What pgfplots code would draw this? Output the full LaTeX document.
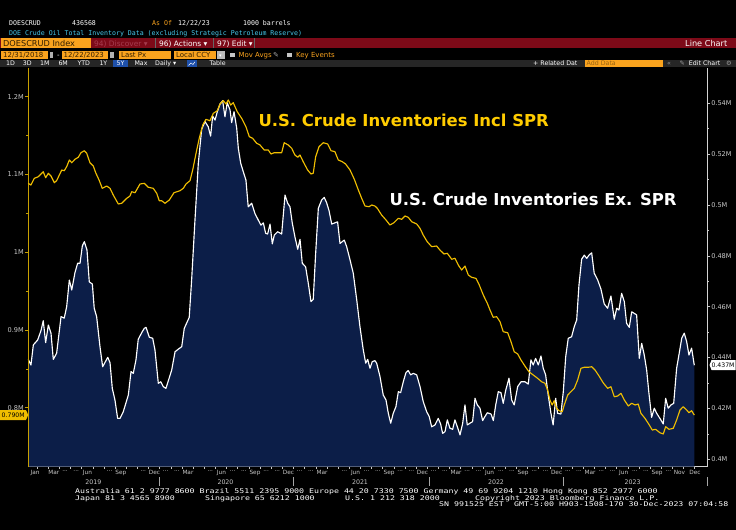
\documentclass[border=0pt]{standalone}
\usepackage{fontspec}
\setmainfont{DejaVu Sans}
\newfontfamily\mono{DejaVu Sans Mono}
\usepackage{graphicx}
\usepackage{pgfplots}
\usepackage{pgfplotstable}
\pgfplotsset{compat=1.18}

\definecolor{navy}{RGB}{12,30,72}
\definecolor{gold}{RGB}{240,190,0}
\definecolor{goldtxt}{RGB}{255,204,0}
\definecolor{goldaxis}{RGB}{200,160,0}
\definecolor{bbred}{RGB}{125,10,24}
\definecolor{bborange}{RGB}{250,163,30}
\definecolor{bbcyan}{RGB}{70,200,235}
\definecolor{bbgrey}{RGB}{200,200,200}
\definecolor{bbbar}{RGB}{38,38,38}
\definecolor{bbblue}{RGB}{30,80,170}
\definecolor{dimred}{RGB}{165,60,78}
\definecolor{boxtxt}{RGB}{50,30,0}

\protected\def\dd{...}
% squat terminal-style footer text
\newcommand\ft[1]{\scalebox{1}[0.78]{#1}}

% U.S. crude inventories excluding SPR (million x 1000 bbl), right axis
\pgfplotstableread{
t v
2019.017 0.4393
2019.037 0.4371
2019.055 0.4450
2019.087 0.4469
2019.112 0.4506
2019.129 0.4545
2019.147 0.4459
2019.167 0.4528
2019.187 0.4496
2019.204 0.4393
2019.229 0.4417
2019.262 0.4561
2019.286 0.4555
2019.304 0.4600
2019.324 0.4705
2019.342 0.4666
2019.366 0.4734
2019.386 0.4771
2019.404 0.4771
2019.421 0.4839
2019.436 0.4856
2019.456 0.4823
2019.473 0.4698
2019.496 0.4689
2019.510 0.4594
2019.528 0.4561
2019.553 0.4443
2019.573 0.4364
2019.611 0.4401
2019.628 0.4380
2019.645 0.4279
2019.665 0.4233
2019.685 0.4161
2019.703 0.4161
2019.727 0.4187
2019.765 0.4253
2019.785 0.4345
2019.802 0.4338
2019.822 0.4391
2019.839 0.4472
2019.865 0.4498
2019.884 0.4515
2019.897 0.4519
2019.922 0.4480
2019.947 0.4476
2019.964 0.4430
2019.989 0.4299
2020.007 0.4305
2020.026 0.4286
2020.046 0.4279
2020.089 0.4351
2020.114 0.4423
2020.138 0.4433
2020.164 0.4443
2020.183 0.4515
2020.220 0.4558
2020.238 0.4705
2020.263 0.4941
2020.288 0.5164
2020.313 0.5298
2020.338 0.5328
2020.362 0.5308
2020.380 0.5271
2020.395 0.5350
2020.413 0.5334
2020.430 0.5367
2020.450 0.5397
2020.470 0.5410
2020.487 0.5347
2020.504 0.5402
2020.525 0.5374
2020.537 0.5324
2020.555 0.5367
2020.575 0.5302
2020.587 0.5223
2020.605 0.5164
2020.624 0.5131
2020.644 0.5098
2020.661 0.4993
2020.687 0.5007
2020.711 0.4967
2020.736 0.4941
2020.756 0.4921
2020.774 0.4930
2020.791 0.4889
2020.806 0.4886
2020.824 0.4925
2020.841 0.4847
2020.856 0.4882
2020.881 0.4895
2020.911 0.4886
2020.936 0.5039
2020.956 0.5007
2020.973 0.4993
2020.990 0.4930
2021.010 0.4875
2021.031 0.4826
2021.048 0.4865
2021.065 0.4771
2021.090 0.4757
2021.110 0.4692
2021.130 0.4620
2021.147 0.4629
2021.165 0.4810
2021.185 0.4987
2021.210 0.5020
2021.229 0.5030
2021.247 0.5009
2021.265 0.4978
2021.285 0.4925
2021.309 0.4930
2021.329 0.4934
2021.347 0.4849
2021.364 0.4856
2021.379 0.4862
2021.397 0.4836
2021.422 0.4784
2021.446 0.4732
2021.472 0.4627
2021.496 0.4522
2021.521 0.4430
2021.539 0.4378
2021.554 0.4393
2021.571 0.4358
2021.588 0.4384
2021.608 0.4388
2021.621 0.4378
2021.646 0.4325
2021.670 0.4253
2021.691 0.4233
2021.708 0.4181
2021.726 0.4142
2021.745 0.4181
2021.765 0.4207
2021.783 0.4266
2021.800 0.4262
2021.820 0.4305
2021.840 0.4341
2021.857 0.4349
2021.875 0.4332
2021.895 0.4338
2021.920 0.4332
2021.945 0.4286
2021.969 0.4227
2021.995 0.4187
2022.014 0.4168
2022.032 0.4128
2022.057 0.4135
2022.081 0.4161
2022.099 0.4139
2022.114 0.4102
2022.132 0.4109
2022.149 0.4155
2022.169 0.4122
2022.189 0.4118
2022.206 0.4155
2022.224 0.4128
2022.244 0.4096
2022.264 0.4142
2022.281 0.4214
2022.298 0.4135
2022.318 0.4142
2022.338 0.4148
2022.356 0.4240
2022.373 0.4214
2022.393 0.4201
2022.413 0.4152
2022.430 0.4168
2022.448 0.4183
2022.476 0.4178
2022.493 0.4152
2022.511 0.4214
2022.530 0.4266
2022.550 0.4262
2022.567 0.4220
2022.585 0.4270
2022.610 0.4319
2022.630 0.4233
2022.649 0.4214
2022.675 0.4286
2022.700 0.4305
2022.729 0.4305
2022.754 0.4296
2022.774 0.4391
2022.791 0.4371
2022.809 0.4397
2022.829 0.4371
2022.849 0.4406
2022.866 0.4358
2022.884 0.4332
2022.903 0.4253
2022.923 0.4183
2022.940 0.4135
2022.959 0.4240
2022.973 0.4181
2022.998 0.4178
2023.016 0.4266
2023.034 0.4404
2023.053 0.4476
2023.078 0.4482
2023.098 0.4522
2023.116 0.4548
2023.133 0.4685
2023.153 0.4787
2023.173 0.4803
2023.191 0.4790
2023.208 0.4803
2023.228 0.4812
2023.247 0.4732
2023.273 0.4705
2023.297 0.4670
2023.322 0.4611
2023.347 0.4594
2023.372 0.4642
2023.397 0.4551
2023.415 0.4594
2023.432 0.4587
2023.452 0.4653
2023.472 0.4620
2023.489 0.4535
2023.509 0.4519
2023.527 0.4580
2023.546 0.4574
2023.564 0.4568
2023.584 0.4397
2023.602 0.4456
2023.621 0.4410
2023.639 0.4351
2023.656 0.4260
2023.676 0.4165
2023.696 0.4201
2023.714 0.4181
2023.738 0.4161
2023.763 0.4139
2023.781 0.4240
2023.800 0.4201
2023.821 0.4214
2023.841 0.4220
2023.863 0.4358
2023.880 0.4410
2023.901 0.4476
2023.920 0.4496
2023.938 0.4463
2023.955 0.4410
2023.975 0.4437
2023.995 0.4370
}\exspr

% U.S. crude inventories including SPR, left axis
\pgfplotstableread{
t v
2019.017 1.0886
2019.037 1.0864
2019.062 1.0950
2019.092 1.0971
2019.129 1.1035
2019.147 1.0958
2019.167 1.1015
2019.187 1.0980
2019.212 1.0894
2019.229 1.0920
2019.267 1.1057
2019.286 1.1048
2019.304 1.1100
2019.324 1.1186
2019.342 1.1151
2019.366 1.1195
2019.391 1.1221
2019.411 1.1280
2019.436 1.1305
2019.454 1.1272
2019.478 1.1151
2019.503 1.1109
2019.521 1.1022
2019.546 1.0929
2019.570 1.0822
2019.603 1.0851
2019.628 1.0822
2019.652 1.0736
2019.690 1.0620
2019.715 1.0629
2019.753 1.0693
2019.777 1.0723
2019.790 1.0778
2019.815 1.0765
2019.852 1.0877
2019.884 1.0886
2019.914 1.0835
2019.951 1.0822
2019.977 1.0758
2019.996 1.0662
2020.014 1.0662
2020.039 1.0629
2020.071 1.0671
2020.106 1.0765
2020.151 1.0791
2020.176 1.0822
2020.196 1.0877
2020.226 1.0920
2020.246 1.1057
2020.271 1.1272
2020.295 1.1465
2020.321 1.1636
2020.345 1.1709
2020.375 1.1691
2020.400 1.1786
2020.430 1.1820
2020.450 1.1906
2020.475 1.1949
2020.495 1.1906
2020.512 1.1958
2020.530 1.1893
2020.549 1.1923
2020.579 1.1807
2020.612 1.1722
2020.644 1.1614
2020.669 1.1486
2020.694 1.1465
2020.724 1.1401
2020.749 1.1379
2020.781 1.1314
2020.811 1.1314
2020.831 1.1263
2020.856 1.1280
2020.911 1.1280
2020.930 1.1408
2020.960 1.1379
2020.986 1.1336
2021.010 1.1250
2021.031 1.1221
2021.048 1.1250
2021.072 1.1164
2021.105 1.1057
2021.130 1.1006
2021.147 1.1015
2021.165 1.1228
2021.190 1.1357
2021.222 1.1408
2021.255 1.1392
2021.280 1.1305
2021.309 1.1293
2021.334 1.1186
2021.364 1.1164
2021.389 1.1134
2021.422 1.1057
2021.454 1.0938
2021.484 1.0800
2021.509 1.0693
2021.534 1.0594
2021.564 1.0585
2021.584 1.0607
2021.608 1.0594
2021.626 1.0565
2021.658 1.0478
2021.691 1.0414
2021.720 1.0350
2021.750 1.0379
2021.783 1.0436
2021.808 1.0423
2021.833 1.0466
2021.857 1.0449
2021.883 1.0392
2021.920 1.0363
2021.945 1.0307
2021.969 1.0221
2021.999 1.0135
2022.032 1.0071
2022.069 1.0080
2022.094 1.0028
2022.124 0.9977
2022.149 0.9986
2022.182 0.9909
2022.206 0.9922
2022.231 0.9835
2022.256 0.9771
2022.281 0.9822
2022.306 0.9707
2022.331 0.9677
2022.363 0.9664
2022.388 0.9578
2022.418 0.9449
2022.448 0.9343
2022.468 0.9257
2022.492 0.9163
2022.518 0.9170
2022.543 0.9106
2022.567 0.8977
2022.600 0.8965
2022.625 0.8849
2022.649 0.8720
2022.675 0.8691
2022.700 0.8613
2022.729 0.8536
2022.759 0.8463
2022.791 0.8421
2022.824 0.8378
2022.854 0.8334
2022.879 0.8314
2022.899 0.8228
2022.916 0.8099
2022.933 0.8035
2022.948 0.8090
2022.966 0.7992
2022.984 0.7961
2023.008 0.7948
2023.023 0.8035
2023.049 0.8163
2023.073 0.8206
2023.098 0.8249
2023.123 0.8356
2023.148 0.8507
2023.173 0.8520
2023.203 0.8520
2023.228 0.8527
2023.253 0.8485
2023.283 0.8408
2023.315 0.8318
2023.348 0.8249
2023.372 0.8270
2023.397 0.8141
2023.422 0.8150
2023.447 0.8185
2023.472 0.8099
2023.502 0.8022
2023.527 0.8057
2023.552 0.8035
2023.576 0.8047
2023.596 0.7928
2023.626 0.7864
2023.651 0.7799
2023.681 0.7713
2023.706 0.7722
2023.738 0.7678
2023.763 0.7662
2023.781 0.7756
2023.806 0.7722
2023.838 0.7735
2023.863 0.7842
2023.888 0.7970
2023.912 0.8013
2023.938 0.7970
2023.955 0.7936
2023.975 0.7961
2023.995 0.7905
}\inclspr

\begin{document}
\begin{tikzpicture}
\useasboundingbox (0,0) rectangle (736bp,-530bp);
\fill[black] (0,0) rectangle (736bp,-530bp);

\tikzset{
  m/.style={inner sep=0pt, anchor=base west, font=\mono\fontsize{6.6}{7}\selectfont},
  f/.style={inner sep=0pt, anchor=base west, font=\mono\fontsize{8.3}{9}\selectfont, text=white},
  tb/.style={inner sep=0pt, anchor=base west, font=\fontsize{7.5}{8}\selectfont},
  ob/.style={inner sep=0pt, anchor=base west, font=\fontsize{7}{8}\selectfont},
  sb/.style={inner sep=0pt, anchor=base west, font=\fontsize{6.3}{7}\selectfont, text=white},
}

% header lines
\node[m, text=white] at (9bp,-25bp) {DOESCRUD};
\node[m, text=white] at (72bp,-25bp) {436568};
\node[m, text=bborange] at (152bp,-25bp) {As Of};
\node[m, text=white] at (178bp,-25bp) {12/22/23};
\node[m, text=white] at (243bp,-25bp) {1000 barrels};
\node[m, text=bbcyan] at (9bp,-35.5bp) {DOE Crude Oil Total Inventory Data (excluding Strategic Petroleum Reserve)};

% red toolbar
\fill[bbred] (0,-37.7bp) rectangle (736bp,-48.3bp);
\fill[bborange] (1bp,-38.3bp) rectangle (91bp,-47.7bp);
\node[tb, text=boxtxt, font=\fontsize{8.2}{9}\selectfont] at (3bp,-46bp) {DOESCRUD Index};
\node[tb, text=dimred] at (94bp,-46bp) {94) Discover ▾};
\draw[black!60, line width=0.6pt] (155bp,-38bp) -- (155bp,-48bp);
\node[tb, text=white] at (159bp,-46bp) {96) Actions ▾};
\draw[black!60, line width=0.6pt] (213bp,-38bp) -- (213bp,-48bp);
\node[tb, text=white] at (217bp,-46bp) {97) Edit ▾};
\draw[black!60, line width=0.6pt] (254bp,-38bp) -- (254bp,-48bp);
\node[tb, text=white, font=\fontsize{8.2}{9}\selectfont] at (685bp,-46bp) {Line Chart};

% date / field row
\fill[bborange] (1bp,-51bp) rectangle (48.3bp,-59bp);
\node[ob, text=boxtxt] at (3bp,-57.5bp) {12/31/2018};
\fill[gray!60] (49.5bp,-52bp) rectangle (53bp,-58bp);
\node[ob, text=white] at (57bp,-57.5bp) {-};
\fill[bborange] (61.7bp,-51bp) rectangle (108.3bp,-59bp);
\node[ob, text=boxtxt] at (63.5bp,-57.5bp) {12/22/2023};
\fill[gray!60] (110bp,-52bp) rectangle (113.5bp,-58bp);
\fill[bborange] (119bp,-51bp) rectangle (170.7bp,-59bp);
\node[ob, text=boxtxt] at (121bp,-57.5bp) {Last Px};
\fill[bborange] (174bp,-51bp) rectangle (216bp,-59bp);
\node[ob, text=boxtxt] at (176bp,-57.5bp) {Local CCY};
\fill[gray!55] (217.3bp,-51bp) rectangle (225bp,-59bp);
\node[ob, text=white, font=\fontsize{5}{6}\selectfont] at (218.8bp,-57bp) {▾};
\fill[gray!45] (230bp,-52.5bp) rectangle (234.5bp,-57bp);
\node[ob, text=bborange] at (238.3bp,-57.5bp) {Mov Avgs};
\node[ob, text=gray!70] at (273bp,-57.5bp) {✎};
\fill[gray!45] (287bp,-52.5bp) rectangle (291.5bp,-57bp);
\node[ob, text=bborange] at (296bp,-57.5bp) {Key Events};

% range row
\fill[bbbar] (0,-59.8bp) rectangle (736bp,-67.3bp);
\node[sb] at (6bp,-65.8bp) {1D};
\node[sb] at (22.7bp,-65.8bp) {3D};
\node[sb] at (40bp,-65.8bp) {1M};
\node[sb] at (58.3bp,-65.8bp) {6M};
\node[sb] at (77.3bp,-65.8bp) {YTD};
\node[sb] at (99.3bp,-65.8bp) {1Y};
\fill[bbblue] (113.3bp,-60.2bp) rectangle (127.7bp,-67bp);
\node[sb] at (116.5bp,-65.8bp) {5Y};
\node[sb] at (134.3bp,-65.8bp) {Max};
\node[sb] at (155bp,-65.8bp) {Daily ▾};
\fill[bbblue] (186.7bp,-60.2bp) rectangle (196.7bp,-67bp);
\draw[white, line width=0.5pt] (188.5bp,-65.5bp) -- (191bp,-63bp) -- (193bp,-64.5bp) -- (195bp,-61.8bp);
\node[sb] at (209.3bp,-65.8bp) {Table};
\node[sb] at (533bp,-65.8bp) {+ Related Dat};
\fill[bborange] (584.7bp,-60.2bp) rectangle (663bp,-67bp);
\node[sb, text=bborange!60!black] at (586.5bp,-65.8bp) {Add Data};
\node[sb, text=gray!80] at (667bp,-65.8bp) {«};
\node[sb, text=gray!80] at (679.5bp,-65.8bp) {✎};
\node[sb] at (688.7bp,-65.8bp) {Edit Chart};
\node[sb, text=gray!80] at (726bp,-65.8bp) {⚙};

% Ex SPR, right axis
\begin{axis}[
  at={(28bp,-466.5bp)}, anchor=south west,
  scale only axis, width=679bp, height=398.5bp,
  xmin=2019.015, xmax=2024.09,
  ymin=0.39717, ymax=0.55388,
  axis x line*=bottom, axis y line*=right,
  axis line style={draw=bbgrey!80, line width=0.6pt},
  tick align=outside,
  major tick length=3.5bp, minor tick length=2bp,
  tick style={draw=bbgrey, line width=0.5pt},
  major x tick style={draw=none},
  xtick={2019.041667,2019.125,...,2024},
  xticklabels={{},{},Mar,\dd,\dd,Jun,{},\dd,Sep,{},\dd,Dec,
    \dd,\dd,Mar,{},\dd,Jun,\dd,\dd,Sep,\dd,\dd,Dec,
    \dd,\dd,Mar,{},\dd,Jun,\dd,\dd,Sep,\dd,\dd,Dec,
    \dd,\dd,Mar,\dd,\dd,Jun,\dd,\dd,Sep,\dd,\dd,Dec,
    \dd,\dd,Mar,\dd,\dd,Jun,\dd,\dd,Sep,\dd,Nov,{}},
  extra x ticks={2019.068,2024.0},
  extra x tick labels={Jan,Dec},
  extra x tick style={major x tick style={draw=none}},
  minor xtick={2019.083333,2019.166667,...,2024},
  xticklabel style={font=\fontsize{5.8}{6}\selectfont, text=bbgrey, inner sep=0pt},
  ytick={0.4,0.42,0.44,0.46,0.48,0.5,0.52,0.54},
  yticklabels={0.4M,0.42M,0.44M,0.46M,0.48M,0.5M,0.52M,0.54M},
  minor y tick num=1,
  yticklabel style={font=\fontsize{6.6}{7}\selectfont, text=bbgrey, inner sep=0.6pt},
]
\addplot[fill=navy, draw=none] table[x=t, y=v] {\exspr} \closedcycle;
\addplot[white, line width=1.15pt, line join=round] table[x=t, y=v] {\exspr};
\end{axis}

% Incl SPR, left axis
\begin{axis}[
  at={(28bp,-466.5bp)}, anchor=south west,
  scale only axis, width=679bp, height=398.5bp,
  xmin=2019.015, xmax=2024.09,
  ymin=0.72437, ymax=1.23691,
  axis x line=none, axis y line*=left,
  axis line style={draw=goldaxis, line width=0.6pt},
  tick align=outside,
  major tick length=3.5bp, minor tick length=2bp,
  tick style={draw=goldaxis, line width=0.5pt},
  xtick=\empty,
  ytick={0.8,0.9,1,1.1,1.2},
  yticklabels={0.8M,0.9M,1M,1.1M,1.2M},
  minor y tick num=1,
  yticklabel style={font=\fontsize{6.6}{7}\selectfont, text=bbgrey, inner sep=0.6pt},
]
\addplot[gold, line width=1.15pt, line join=round] table[x=t, y=v] {\inclspr};
\end{axis}

% series captions
\node[inner sep=0pt, anchor=base west, font=\bfseries\fontsize{16.5}{18}\selectfont, text=goldtxt]
  at (258.3bp,-126bp) {U.S. Crude Inventories Incl SPR};
\node[inner sep=0pt, anchor=base west, font=\bfseries\fontsize{16.5}{18}\selectfont, text=white]
  at (389.3bp,-205bp) {U.S. Crude Inventories Ex. SPR};

% last value tags
\fill[gold] (0,-410bp) -- (26bp,-410bp) -- (28.3bp,-415bp) -- (26bp,-420bp) -- (0,-420bp) -- cycle;
\node[inner sep=0pt, font=\fontsize{6.2}{7}\selectfont, text=black] at (13.2bp,-415bp) {0.790M};
\fill[white] (709.5bp,-365bp) -- (711.5bp,-360bp) -- (735.5bp,-360bp) -- (735.5bp,-370bp) -- (711.5bp,-370bp) -- cycle;
\node[inner sep=0pt, font=\fontsize{6.2}{7}\selectfont, text=black] at (723bp,-365bp) {0.437M};

% year row
\foreach \xx in {159.3,293.3,429.7,563.7,707} {
  \draw[gray!70, line width=0.6pt] (\xx bp,-477bp) -- (\xx bp,-486bp);
}
\foreach \xx/\yy in {93.3/2019,225.5/2020,360/2021,496/2022,632.7/2023} {
  \node[inner sep=0pt, anchor=base, font=\fontsize{6.3}{7}\selectfont, text=bbgrey] at (\xx bp,-484.5bp) {\yy};
}

% footer
\node[f] at (75bp,-493.5bp) {\ft{Australia 61 2 9777 8600 Brazil 5511 2395 9000 Europe 44 20 7330 7500 Germany 49 69 9204 1210 Hong Kong 852 2977 6000}};
\node[f] at (75bp,-500bp) {\ft{Japan 81 3 4565 8900}};
\node[f] at (205bp,-500bp) {\ft{Singapore 65 6212 1000}};
\node[f] at (345bp,-500bp) {\ft{U.S. 1 212 318 2000}};
\node[f] at (475bp,-500bp) {\ft{Copyright 2023 Bloomberg Finance L.P.}};
\node[f] at (439bp,-506.5bp) {\ft{SN 991525 EST}};
\node[f] at (514bp,-506.5bp) {\ft{GMT-5:00 H903-1508-170 30-Dec-2023 07:04:58}};
\end{tikzpicture}
\end{document}
